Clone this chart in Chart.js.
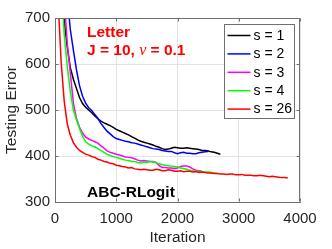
<!DOCTYPE html>
<html>
<head>
<meta charset="utf-8">
<script src="https://cdn.jsdelivr.net/npm/chart.js@4"></script>
<style>
  html, body { margin: 0; padding: 0; background: #fff; }
</style>
</head>
<body>
<canvas id="graficaError" width="332" height="249"></canvas>
<script>
// iteraciones (eje x), paso de 50
const iterations = [
    0, 50, 100, 150, 200, 250, 300, 350, 400, 450,
    500, 550, 600, 650, 700, 750, 800, 850, 900, 950,
    1000, 1050, 1100, 1150, 1200, 1250, 1300, 1350, 1400, 1450,
    1500, 1550, 1600, 1650, 1700, 1750, 1800, 1850, 1900, 1950,
    2000, 2050, 2100, 2150, 2200, 2250, 2300, 2350, 2400, 2450,
    2500, 2550, 2600, 2650, 2700, 2750, 2800, 2850, 2900, 2950,
    3000, 3050, 3100, 3150, 3200, 3250, 3300, 3350, 3400, 3450,
    3500, 3550, 3600, 3650, 3700, 3750, 3800
];

// error de prueba por serie
const errS1 = [
    1200, 1050, 850, 695, 637, 592, 567, 547, 527, 514,
    506, 500, 494, 487, 481, 476, 472, 469, 466, 462,
    458, 455, 452, 449, 446, 442, 439, 435, 432, 430,
    428, 426, 424, 421, 419, 416, 414, 415, 417, 419,
    418, 417, 417, 418, 417, 416, 415, 414, 412, 412,
    411, 409, 408, 406, 404
];
const errS2 = [
    1300, 1150, 1000, 860, 745, 675, 630, 588, 553, 530,
    515, 505, 499, 490, 482, 471, 462, 454, 448, 442,
    438, 436, 434, 432, 431, 429, 428, 426, 424, 422,
    420, 418, 416, 415, 414, 412, 411, 410, 410, 407,
    405, 407, 408, 406, 406, 405, 405, 407, 408, 409,
    410
];
const errS3 = [
    1150, 1000, 870, 745, 645, 580, 515, 482, 463, 450,
    441, 437, 434, 431, 428, 422, 417, 411, 408, 406,
    404, 402, 400, 398, 397, 396, 394, 391, 389, 390,
    389, 388, 388, 386, 379, 375, 375, 374, 374, 373,
    374, 377, 378, 378, 376, 372, 369, 368, 367
];
const errS4 = [
    1100, 930, 780, 665, 595, 540, 500, 479, 460, 443,
    431, 426, 422, 420, 416, 412, 408, 404, 401, 399,
    397, 395, 393, 391, 390, 388, 388, 386, 385, 387,
    386, 388, 387, 385, 383, 381, 380, 379, 378, 377,
    376, 374, 373, 371, 369, 368, 367, 367, 366, 365,
    365, 364, 363, 362
];
const errS26 = [
    1000, 740, 605, 520, 470, 445, 429, 419, 412, 408,
    404, 402, 399, 397, 393, 391, 388, 387, 384, 383,
    380, 379, 377, 376, 374, 375, 372, 371, 370, 371,
    370, 369, 369, 371, 370, 368, 368, 370, 369, 367,
    367, 368, 366, 367, 367, 365, 366, 364, 365, 364,
    363, 363, 362, 362, 361, 361, 360, 361, 361, 359,
    359, 360, 358, 358, 358, 357, 357, 358, 357, 356,
    355, 356, 355, 354, 353, 353, 352
];

const seriesLabels = ['s = 1', 's = 2', 's = 3', 's = 4', 's = 26'];
const seriesColors = ['#000000', '#0000ff', '#ff00ff', '#00ff00', '#ff0000'];
const xTicks = [0, 1000, 2000, 3000, 4000];
const yTicks = [300, 400, 500, 600, 700];

const FONT = '"Liberation Sans", Arial, sans-serif';

function toPoints(vals) {
    return vals.map((v, i) => ({ x: iterations[i], y: v }));
}

const allSeries = [errS1, errS2, errS3, errS4, errS26];

// marco, leyenda y textos
const decorPlugin = {
    id: 'decor',
    afterDraw(chart) {
        const ctx = chart.ctx;
        const a = chart.chartArea;
        const xs = chart.scales.x;
        const ys = chart.scales.y;
        const L = Math.round(a.left) + 0.5, R = Math.round(a.right) - 0.5;
        const T = Math.round(a.top) + 0.5, B = Math.round(a.bottom) - 0.5;

        ctx.save();
        ctx.strokeStyle = '#707070';
        ctx.lineWidth = 1;
        ctx.beginPath();
        ctx.moveTo(L, T); ctx.lineTo(R, T); ctx.lineTo(R, B);
        // marcas hacia dentro
        yTicks.forEach(v => {
            const py = Math.round(ys.getPixelForValue(v)) + 0.5;
            ctx.moveTo(L, py); ctx.lineTo(L + 3, py);
            ctx.moveTo(R, py); ctx.lineTo(R - 3, py);
        });
        xTicks.forEach(v => {
            const px = Math.round(xs.getPixelForValue(v)) + 0.5;
            ctx.moveTo(px, B); ctx.lineTo(px, B - 3);
            ctx.moveTo(px, T); ctx.lineTo(px, T + 3);
        });
        ctx.stroke();

        // textos
        ctx.textBaseline = 'middle';
        ctx.textAlign = 'left';
        const tx = a.left + 32;
        ctx.fillStyle = '#ff0000';
        ctx.font = 'bold 15.5px ' + FONT;
        ctx.fillText('Letter', tx, a.top + 15);
        let cx = tx;
        const part1 = 'J = 10, ';
        ctx.fillText(part1, cx, a.top + 33);
        cx += ctx.measureText(part1).width;
        ctx.font = 'italic 16px "Liberation Serif", "Times New Roman", serif';
        ctx.fillText('\u03BD', cx, a.top + 33);
        cx += ctx.measureText('\u03BD').width;
        ctx.font = 'bold 15.5px ' + FONT;
        ctx.fillText(' = 0.1', cx, a.top + 33);

        ctx.fillStyle = '#000000';
        ctx.fillText('ABC-RLogit', tx, a.top + 175);

        // leyenda
        const bx = Math.round(a.right) - 75.5, by = Math.round(a.top) + 6.5;
        const bw = 70, bh = 94;
        ctx.fillStyle = '#ffffff';
        ctx.fillRect(bx, by, bw, bh);
        ctx.strokeStyle = '#707070';
        ctx.strokeRect(bx, by, bw, bh);
        ctx.font = '14px ' + FONT;
        seriesLabels.forEach((lab, i) => {
            const ry = by + 11 + i * 18.4;
            ctx.strokeStyle = seriesColors[i];
            ctx.lineWidth = 1.5;
            ctx.beginPath();
            ctx.moveTo(bx + 3, ry);
            ctx.lineTo(bx + 26, ry);
            ctx.stroke();
            ctx.fillStyle = '#000000';
            ctx.fillText(lab, bx + 29, ry + 0.5);
        });
        ctx.restore();
    }
};

new Chart(document.getElementById('graficaError').getContext('2d'), {
    type: 'line',
    data: {
        datasets: allSeries.map((vals, i) => ({
            label: seriesLabels[i],
            data: toPoints(vals),
            borderColor: seriesColors[i],
            borderWidth: 1.5,
            pointRadius: 0,
            fill: false,
            tension: 0,
            order: allSeries.length - i
        }))
    },
    options: {
        responsive: false,
        animation: false,
        layout: { padding: { top: 18, right: 32, left: 0, bottom: 0 } },
        plugins: {
            legend: { display: false },
            tooltip: { enabled: false }
        },
        scales: {
            x: {
                type: 'linear',
                min: 0,
                max: 4000,
                afterBuildTicks: s => { s.ticks = xTicks.map(v => ({ value: v })); },
                afterFit: s => { s.height = 47; },
                grid: { color: '#e3e3e3', drawTicks: false },
                border: { color: '#707070' },
                ticks: { padding: 8, color: '#262626', autoSkip: false, maxRotation: 0, font: { family: FONT, size: 15 }, callback: v => String(v) },
                title: { display: true, text: 'Iteration', color: '#262626', font: { family: FONT, size: 15.5 }, padding: { top: 0, bottom: 2 } }
            },
            y: {
                min: 300,
                max: 700,
                afterBuildTicks: s => { s.ticks = yTicks.map(v => ({ value: v })); },
                afterFit: s => { s.width = 55; },
                grid: { color: '#e3e3e3', drawTicks: false },
                border: { color: '#707070' },
                ticks: { padding: 5, color: '#262626', font: { family: FONT, size: 15 }, callback: v => String(v) },
                title: { display: true, text: 'Testing Error', color: '#262626', font: { family: FONT, size: 15.5 }, padding: { top: 2, bottom: 0 } }
            }
        }
    },
    plugins: [decorPlugin]
});
</script>
</body>
</html>
